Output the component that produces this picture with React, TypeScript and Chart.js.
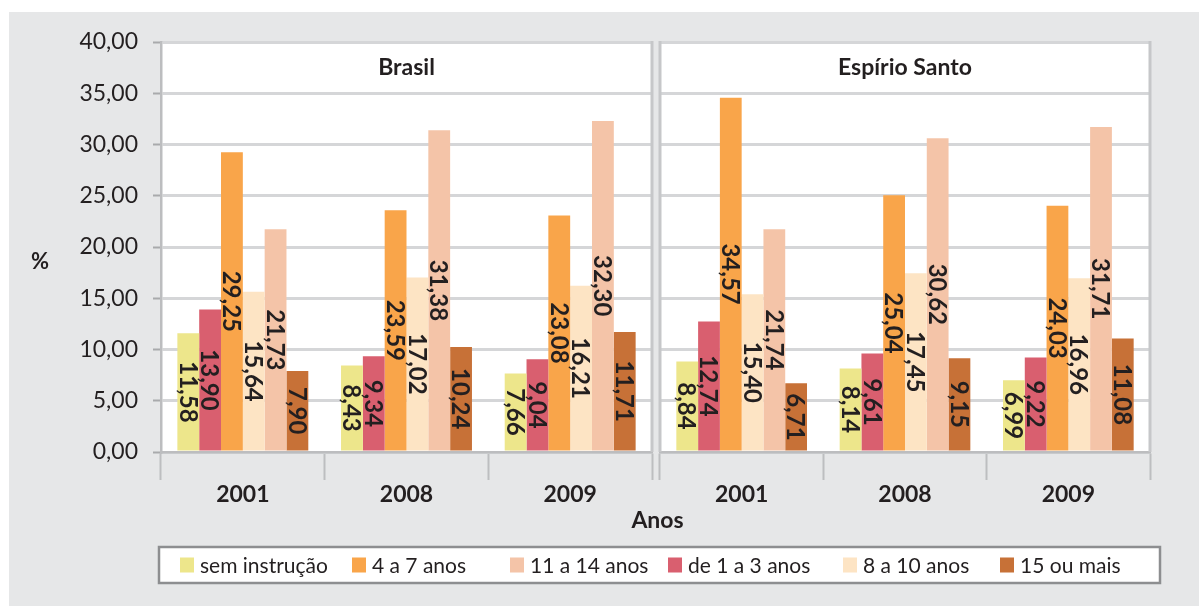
import { useEffect, useRef } from 'react';
import { Chart, registerables } from 'chart.js';

Chart.register(...registerables);

// Categories and panels
const years = ['2001', '2008', '2009'];
const panelTitles = ['Brasil', 'Espírio Santo'];
const xTitle = 'Anos';
const yTitle = '%';

// Education levels (bar order inside each year group)
const seriesLabels = ['sem instrução', 'de 1 a 3 anos', '4 a 7 anos', '8 a 10 anos', '11 a 14 anos', '15 ou mais'];
const seriesColors = ['#ede68b', '#d95f6f', '#f9a54a', '#fde4c4', '#f4c4a8', '#c77137'];
// Legend lists the levels in this order
const legendOrder = [0, 2, 4, 1, 3, 5];

// Values: Brasil 2001, 2008, 2009, then Espírito Santo 2001, 2008, 2009 (%)
const semInstrucao = [11.58, 8.43, 7.66, 8.84, 8.14, 6.99];
const de1a3Anos = [13.9, 9.34, 9.04, 12.74, 9.61, 9.22];
const de4a7Anos = [29.25, 23.59, 23.08, 34.57, 25.04, 24.03];
const de8a10Anos = [15.64, 17.02, 16.21, 15.4, 17.45, 16.96];
const de11a14Anos = [21.73, 31.38, 32.3, 21.74, 30.62, 31.71];
const mais15Anos = [7.9, 10.24, 11.71, 6.71, 9.15, 11.08];
const seriesValues = [semInstrucao, de1a3Anos, de4a7Anos, de8a10Anos, de11a14Anos, mais15Anos];

// Y axis range
const yMin = 0;
const yMax = 40;
const yStep = 5;

const FONT = 'Lato, "Open Sans", sans-serif';
const INK = '#231f20';
const BG = '#e6e7e8';
const GRID = '#d5d6d8';
const AXIS = '#bcbdbf';
const PANEL_LINE = '#c6c7c9';

// Canvas geometry
const W = 1190;
const H = 594;
const PLOT_TOP = 30;
const X_AXIS_H = 154;
const Y_AXIS_W = 152;
const LEFT_PLOT_RIGHT = 643;
const SPLIT = 647; // where the second panel's canvas starts
const RIGHT_PLOT_LEFT = 651;
const PLOT_RIGHT = 1141;

const fmt = (v: number) => v.toFixed(2).replace('.', ',');

// White panel fill and its frame
const panelDecor = {
  id: 'panelDecor',
  beforeDraw(chart: any) {
    const { ctx, chartArea: a } = chart;
    ctx.save();
    ctx.fillStyle = '#ffffff';
    ctx.fillRect(a.left, a.top, a.right - a.left, a.bottom - a.top);
    ctx.restore();
  },
  beforeDatasetsDraw(chart: any, _args: any, opts: any) {
    const { ctx, chartArea: a } = chart;
    ctx.save();
    ctx.strokeStyle = PANEL_LINE;
    ctx.lineWidth = 3;
    const xs = opts.frameLeft ? [a.left, a.right] : [a.right];
    xs.forEach((x: number) => {
      ctx.beginPath();
      ctx.moveTo(x, a.top - 1);
      ctx.lineTo(x, a.bottom);
      ctx.stroke();
    });
    ctx.restore();
  },
};

// Rotated value labels centred in each bar, plus the panel title
const barLabels = {
  id: 'barLabels',
  afterDatasetsDraw(chart: any, _args: any, opts: any) {
    const { ctx, chartArea: a } = chart;
    ctx.save();
    ctx.fillStyle = INK;
    ctx.textAlign = 'center';
    ctx.textBaseline = 'middle';
    ctx.font = `bold 23px ${FONT}`;
    ctx.fillText(opts.title, (a.left + a.right) / 2, a.top + 26);
    ctx.font = `bold 24px ${FONT}`;
    chart.data.datasets.forEach((ds: any, i: number) => {
      const meta = chart.getDatasetMeta(i);
      meta.data.forEach((bar: any, j: number) => {
        const { x, y, base } = bar.getProps(['x', 'y', 'base'], true);
        ctx.save();
        ctx.translate(x, (y + base) / 2);
        ctx.rotate(Math.PI / 2);
        ctx.fillText(fmt(ds.data[j]), 0, 1);
        ctx.restore();
      });
    });
    ctx.restore();
  },
};

// Shared titles and the boxed legend (drawn on the full-width canvas)
const sharedTexts = {
  id: 'sharedTexts',
  afterDraw(chart: any) {
    const { ctx, chartArea: a } = chart;
    ctx.save();
    ctx.fillStyle = INK;
    ctx.textBaseline = 'middle';
    ctx.textAlign = 'center';
    ctx.font = `bold 23px ${FONT}`;
    ctx.fillText(xTitle, (a.left + PLOT_RIGHT) / 2 + 2, a.bottom + 69);
    ctx.font = `bold 22px ${FONT}`;
    ctx.fillText(yTitle, 31, a.top + 220);

    const boxL = a.left - 2;
    const boxR = PLOT_RIGHT + 10;
    const boxT = a.bottom + 95;
    const boxH = 36;
    ctx.fillStyle = '#ffffff';
    ctx.fillRect(boxL, boxT, boxR - boxL, boxH);
    ctx.strokeStyle = '#8d8e90';
    ctx.lineWidth = 2.5;
    ctx.strokeRect(boxL, boxT, boxR - boxL, boxH);
    const slots = [21, 193, 351, 509, 684, 841];
    const cy = boxT + boxH / 2;
    ctx.font = `21px ${FONT}`;
    ctx.textAlign = 'left';
    legendOrder.forEach((s, k) => {
      const x = boxL + slots[k];
      ctx.fillStyle = seriesColors[s];
      ctx.fillRect(x, cy - 7.5, 14, 15);
      ctx.fillStyle = INK;
      ctx.fillText(seriesLabels[s], x + 20, cy + 1);
    });
    ctx.restore();
  },
};

function buildDatasets(panel: number) {
  return seriesLabels.map((label, s) => ({
    label,
    data: seriesValues[s].slice(panel * 3, panel * 3 + 3),
    backgroundColor: seriesColors[s],
    borderWidth: 0,
    barPercentage: 1,
    categoryPercentage: 0.8,
  }));
}

function makeChart(canvas: HTMLCanvasElement, panel: number) {
  const first = panel === 0;
  const padding = first
    ? { top: PLOT_TOP, left: 0, right: W - LEFT_PLOT_RIGHT, bottom: 0 }
    : { top: PLOT_TOP, left: 0, right: W - PLOT_RIGHT, bottom: 0 };
  const yWidth = first ? Y_AXIS_W : RIGHT_PLOT_LEFT - SPLIT;
  return new Chart(canvas, {
    type: 'bar',
    data: { labels: years, datasets: buildDatasets(panel) },
    options: {
      responsive: false,
      devicePixelRatio: 1,
      animation: false,
      layout: { padding },
      plugins: {
        legend: { display: false },
        tooltip: { enabled: false },
        title: { display: false },
        panelDecor: { frameLeft: !first },
        barLabels: { title: panelTitles[panel] },
      } as any,
      scales: {
        x: {
          type: 'category',
          offset: true,
          afterFit: (scale: any) => {
            scale.height = X_AXIS_H;
          },
          grid: {
            offset: true,
            drawOnChartArea: false,
            drawTicks: true,
            tickLength: 28,
            tickColor: '#bdbec0',
            tickWidth: 2,
          },
          border: { display: true, color: AXIS, width: 2.5 },
          ticks: {
            color: INK,
            font: { family: FONT, size: 23, weight: 'bold' },
            padding: 1,
            maxRotation: 0,
            autoSkip: false,
          },
        },
        y: {
          type: 'linear',
          position: 'left',
          min: yMin,
          max: yMax,
          afterFit: (scale: any) => {
            scale.width = yWidth;
          },
          grid: {
            color: GRID,
            lineWidth: 3,
            drawTicks: first,
            tickLength: 8,
            tickColor: '#a9aaac',
            tickWidth: 2,
          },
          border: { display: first, color: AXIS, width: 2.5 },
          ticks: {
            display: first,
            stepSize: yStep,
            color: INK,
            padding: 15,
            font: { family: FONT, size: 23 },
            callback: (v: any) => fmt(Number(v)),
          },
        },
      },
    },
    plugins: first ? [panelDecor, barLabels, sharedTexts] : [panelDecor, barLabels],
  });
}

export default function App() {
  const leftRef = useRef<HTMLCanvasElement | null>(null);
  const rightRef = useRef<HTMLCanvasElement | null>(null);

  useEffect(() => {
    if (!leftRef.current || !rightRef.current) return;
    const brasil = makeChart(leftRef.current, 0);
    const espiritoSanto = makeChart(rightRef.current, 1);
    return () => {
      brasil.destroy();
      espiritoSanto.destroy();
    };
  }, []);

  return (
    <div
      style={{
        position: 'absolute',
        left: 9,
        top: 12,
        width: W,
        height: H,
        background: BG,
      }}
    >
      <canvas
        ref={leftRef}
        width={W}
        height={H}
        style={{ position: 'absolute', left: 0, top: 0, display: 'block' }}
      />
      <canvas
        ref={rightRef}
        width={W - SPLIT}
        height={H}
        style={{ position: 'absolute', left: SPLIT, top: 0, display: 'block' }}
      />
    </div>
  );
}
